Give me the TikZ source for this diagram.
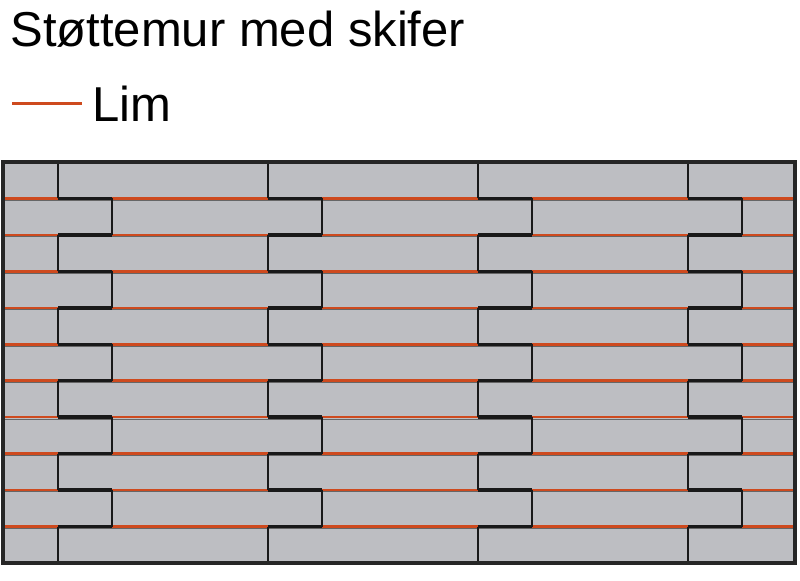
\documentclass[tikz,border=0pt]{standalone}
\usepackage{fontspec}
\setmainfont{Liberation Sans}
\definecolor{lim}{RGB}{206,74,30}
\definecolor{skifer}{RGB}{189,190,194}
\begin{document}
\begin{tikzpicture}[x=0.5pt,y=-0.5pt,
    stein/.style={fill=skifer,draw=black!45,line width=0.5pt},
    fuge/.style={black!90,line width=1.2pt},
    limlinje/.style={lim,line width=1.3pt},
    tekst/.style={anchor=base west,inner sep=0pt,font=\fontsize{24.5}{28}\selectfont}]
  \useasboundingbox (0,0) rectangle (800,580);
  \node[tekst] (tittel) at (10,46) {Støttemur med skifer};
  \coordinate (lima) at (12,103);
  \coordinate (limb) at (82,103);
  \draw[limlinje,line width=1.5pt] (lima) -- (limb);
  \node[tekst] (lim) at (92,121) {Lim};
  % steinene, rad for rad
  \begin{scope}
    \clip (3,162) rectangle (795,563);
    \foreach \r in {0,...,10}{
      \pgfmathsetmacro\yt{162+36.45*\r}
      \pgfmathsetmacro\off{mod(\r,2)*54}
      \foreach \k in {-1,...,3}
        \draw[stein] (58+\off+210*\k,\yt) rectangle ++(210,36.45);
    }
  \end{scope}
  % limfuger
  \foreach \r in {1,...,10}{
    \pgfmathsetmacro\yf{162+36.45*\r}
    \draw[black!60,line width=0.4pt] (3,\yf+1.8) -- (795,\yf+1.8);
    \draw[limlinje] (3,\yf) -- (795,\yf);
    \foreach \k in {0,...,3}
      \draw[fuge,line width=1.7pt] (58+210*\k,\yf) -- (112+210*\k,\yf);
  }
  % stussfuger
  \foreach \r in {0,...,10}{
    \pgfmathsetmacro\yt{162+36.45*\r}
    \pgfmathsetmacro\off{mod(\r,2)*54}
    \foreach \k in {0,...,3}
      \draw[fuge] (58+\off+210*\k,\yt) -- ++(0,36.45);
  }
  \draw[black!85,line width=1.6pt] (3,162) rectangle (795,563);
\end{tikzpicture}
\end{document}
